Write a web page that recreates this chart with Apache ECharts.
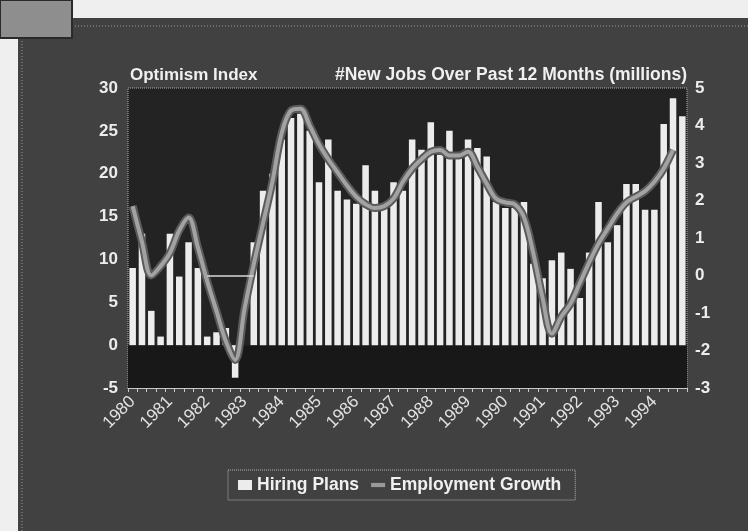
<!DOCTYPE html>
<html>
<head>
<meta charset="utf-8">
<script src="https://cdn.jsdelivr.net/npm/echarts@6/dist/echarts.min.js"></script>
<style>
  html, body { margin: 0; padding: 0; background: #efefef; }
  #chart { width: 748px; height: 531px; }
</style>
</head>
<body>
<div id="chart"></div>
<script>
// Quarterly series, 1980 Q1 through 1994 Q4
const years = ['1980','1981','1982','1983','1984','1985','1986','1987','1988','1989','1990','1991','1992','1993','1994'];
const quarterSuffixes = ['Q1','Q2','Q3','Q4'];

// Optimism index of hiring plans (left axis)
const hiringPlans = [
  9, 13, 4, 1,
  13, 8, 12, 9,
  1, 1.5, 2, -3.8,
  0, 12, 18, 20,
  24, 26.5, 27, 25,
  19, 24, 18, 17,
  16.5, 21, 18, 16,
  19, 18, 24, 22.8,
  26, 22.2, 25, 22,
  24, 23, 22, 16.7,
  16, 16, 16.7, 9.5,
  7.8, 9.9, 10.8, 8.9,
  5.5, 10.8, 16.7, 12,
  14, 18.8, 18.8, 15.8,
  15.8, 25.8, 28.8, 26.7
];

// New jobs over the past 12 months, millions (right axis)
const employmentGrowth = [
  1.85, 0.9, 0.0, 0.25,
  0.6, 1.2, 1.55, 0.75,
  -0.15, -0.95, -1.75, -2.25,
  -0.9, 0.3, 1.4, 2.5,
  3.8, 4.4, 4.45, 4.0,
  3.5, 3.1, 2.75, 2.4,
  2.1, 1.9, 1.8, 1.85,
  2.05, 2.5, 2.85, 3.1,
  3.3, 3.35, 3.2, 3.2,
  3.3, 2.9, 2.45, 2.05,
  1.95, 1.9, 1.55, 0.6,
  -0.6, -1.55, -1.1, -0.75,
  -0.2, 0.35, 0.85, 1.25,
  1.65, 1.95, 2.1, 2.25,
  2.5, 2.85, 3.35, null
];

// Axis scales
const leftTicks = { min: -5, max: 30, interval: 5 };
const rightTicks = { min: -3, max: 5, interval: 1 };

const quarters = [];
years.forEach(y => quarterSuffixes.forEach(q => quarters.push(y + q)));

const FONT = '"Liberation Sans", Arial, sans-serif';
const chart = echarts.init(document.getElementById('chart'), null, { renderer: 'canvas' });

chart.setOption({
  backgroundColor: '#efefef',
  animation: false,
  graphic: [
    { type: 'rect', shape: { x: 18, y: 18, width: 730, height: 513 }, style: { fill: '#414141' }, z: -10 },
    { type: 'line', shape: { x1: 72, y1: 26, x2: 748, y2: 26 }, style: { stroke: '#9a9a9a', lineWidth: 1, lineDash: [1, 2] }, z: -9 },
    { type: 'line', shape: { x1: 22, y1: 38, x2: 22, y2: 531 }, style: { stroke: '#9a9a9a', lineWidth: 1, lineDash: [1, 2] }, z: -9 },
    { type: 'rect', shape: { x: 0, y: 0, width: 72, height: 38 }, style: { fill: '#8e8e8e', stroke: '#2a2a2a', lineWidth: 2 }, z: -8 }
  ],
  grid: {
    left: 128, right: 61, top: 88, bottom: 143,
    show: true,
    backgroundColor: '#232323',
    borderColor: '#b0b0b0',
    borderWidth: 1,
    borderType: 'dotted'
  },
  legend: {
    left: 228, top: 470,
    data: [
      { name: 'Hiring Plans', icon: 'rect' },
      { name: 'Employment Growth', icon: 'path://M0,0H20V6H0Z' }
    ],
    itemWidth: 14, itemHeight: 10, itemGap: 12,
    padding: [6, 14, 6, 10],
    borderColor: '#b5b5b5', borderWidth: 1, borderType: 'dotted',
    textStyle: { color: '#f0f0f0', fontFamily: FONT, fontWeight: 'bold', fontSize: 17.5 }
  },
  xAxis: {
    type: 'category',
    data: quarters,
    axisLine: { onZero: false, lineStyle: { color: '#c8c8c8', width: 1 } },
    axisTick: { show: true, interval: 0, length: 4, lineStyle: { color: '#c8c8c8' } },
    axisLabel: {
      interval: (idx) => idx % 4 === 0,
      formatter: (v) => v.slice(0, 4),
      rotate: 45,
      margin: 11,
      color: '#e2e2e2',
      fontFamily: FONT,
      fontSize: 17
    },
    splitLine: { show: false }
  },
  yAxis: [
    {
      type: 'value',
      min: leftTicks.min, max: leftTicks.max, interval: leftTicks.interval,
      name: 'Optimism Index',
      nameLocation: 'end',
      nameGap: 4,
      nameTextStyle: { color: '#f0f0f0', fontFamily: FONT, fontWeight: 'bold', fontSize: 17, align: 'left', verticalAlign: 'bottom', padding: [0, 0, 0, 2] },
      axisLine: { show: false },
      axisTick: { show: false },
      splitLine: { show: false },
      axisLabel: { color: '#ececec', fontFamily: FONT, fontWeight: 'bold', fontSize: 17, margin: 10 }
    },
    {
      type: 'value',
      position: 'right',
      min: rightTicks.min, max: rightTicks.max, interval: rightTicks.interval,
      name: '#New Jobs Over Past 12 Months (millions)',
      nameLocation: 'end',
      nameGap: 4,
      nameTextStyle: { color: '#f0f0f0', fontFamily: FONT, fontWeight: 'bold', fontSize: 17.5, align: 'right', verticalAlign: 'bottom' },
      axisLine: { show: false },
      axisTick: { show: false },
      splitLine: { show: false },
      axisLabel: { color: '#ececec', fontFamily: FONT, fontWeight: 'bold', fontSize: 17, margin: 8 }
    }
  ],
  series: [
    {
      name: 'Hiring Plans',
      type: 'bar',
      yAxisIndex: 0,
      data: hiringPlans,
      barCategoryGap: '30%',
      itemStyle: { color: '#ececec' },
      z: 2,
      markArea: {
        silent: true,
        itemStyle: { color: '#181818' },
        data: [[{ yAxis: leftTicks.min }, { yAxis: 0 }]]
      }
    },
    {
      name: 'Employment Growth outline',
      type: 'line',
      yAxisIndex: 1,
      data: employmentGrowth,
      smooth: 0.35,
      symbol: 'none',
      lineStyle: { color: '#5a5a5a', width: 8 },
      z: 3,
      silent: true
    },
    {
      name: 'Employment Growth',
      type: 'line',
      yAxisIndex: 1,
      data: employmentGrowth,
      smooth: 0.35,
      symbol: 'none',
      lineStyle: { color: '#a2a2a2', width: 4 },
      itemStyle: { color: '#9a9a9a' },
      z: 4,
      markLine: {
        silent: true,
        symbol: 'none',
        label: { show: false },
        lineStyle: { color: '#d8d8d8', width: 1.5, type: 'solid' },
        data: [[{ coord: ['1982Q1', 0] }, { coord: ['1983Q2', 0] }]]
      }
    }
  ]
});
</script>
</body>
</html>
